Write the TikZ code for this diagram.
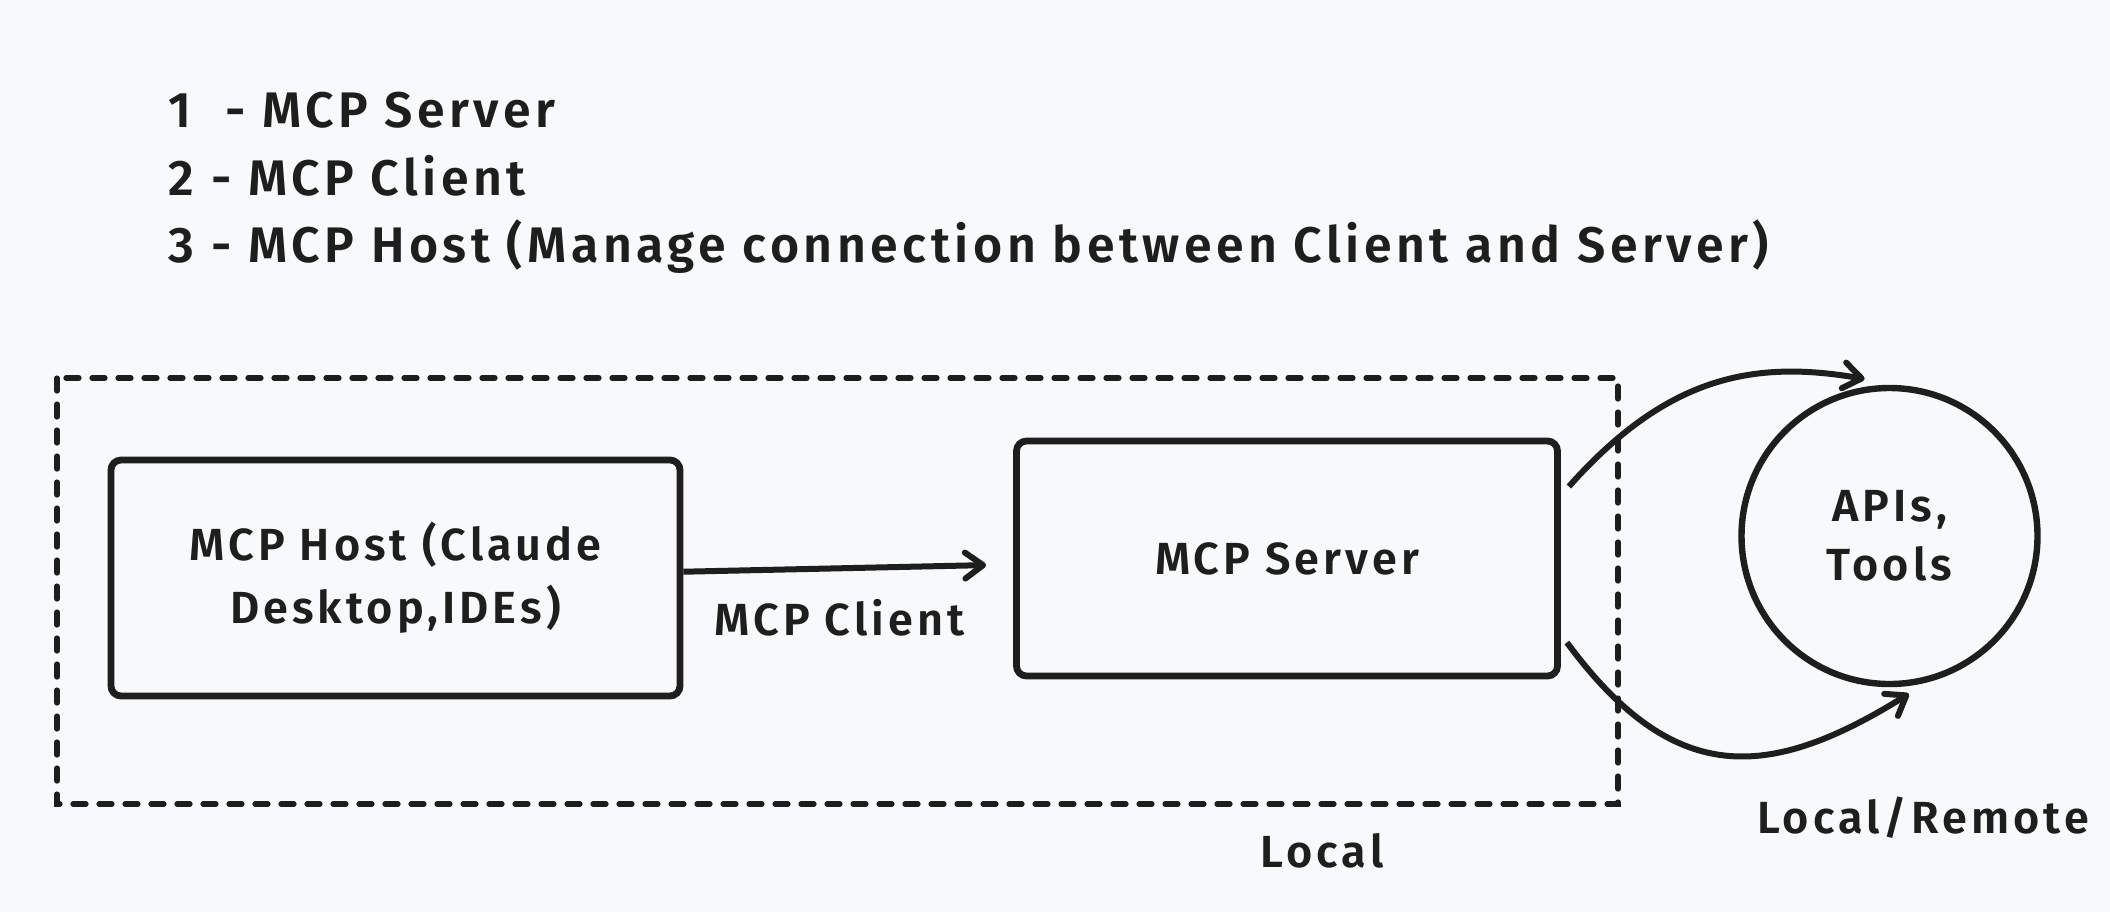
\documentclass[tikz,border=0pt]{standalone}
\usepackage{fontspec}
\setmainfont{Fira Sans}[LetterSpace=9,UprightFont=* SemiBold]
\usepackage{tikz}
\usetikzlibrary{arrows.meta,calc}
\definecolor{canvasbg}{RGB}{248,249,251}
\definecolor{ink}{RGB}{30,30,30}

\begin{document}
\begin{tikzpicture}[x=0.5pt,y=0.5pt,yscale=-1,xscale=1,
  box/.style={draw=ink,line width=3.4pt,rounded corners=5pt,align=center,text=ink,font=\fontsize{22.5}{31.5}\selectfont},
  lbl/.style={text=ink,inner sep=0.75pt,font=\fontsize{22.5}{31.5}\selectfont},
  listline/.style={anchor=base west,text=ink,inner sep=0.75pt,font=\fontsize{25}{30}\selectfont},
  link/.style={draw=ink,line width=3pt,-{Straight Barb[length=9pt,width=13pt,round]}}]
%diagram is 2110 x 912
\fill[canvasbg] (0,0) rectangle (2110,912);
\useasboundingbox (0,0) rectangle (2110,912);

% Text Node
\node[listline] (item1) at (167,127) {1\ \ - MCP Server};
% Text Node
\node[listline] (item2) at (167,195) {2 - MCP Client};
% Text Node
\node[listline] (item3) at (167,262) {3 - MCP Host (Manage connection between Client and Server)};

%Shape: Rectangle [dashed]
\draw[ink,line width=2.6pt,dash pattern=on 6.5pt off 6.5pt,line cap=round] (57,378) rectangle (1618,804);

%Shape: Rectangle
\node[box,minimum width=284.5pt,minimum height=118pt] (host) at (395.5,578) {MCP Host (Claude\\Desktop,IDEs)};
%Shape: Rectangle
\node[box,minimum width=270.5pt,minimum height=117.5pt] (server) at (1287,558.5) {MCP Server};
%Shape: Circle
\node[circle,draw=ink,line width=3.2pt,minimum size=148pt,outer sep=5.5pt,align=center,text=ink,font=\fontsize{22.5}{29.5}\selectfont] (apis) at (1889.5,536) {APIs,\\Tools};

%Straight Lines
\draw[link,shorten >=13.5pt] (host) -- (server);
%Curve Lines
\draw[link] ($(server.east)+(8,-72)$) .. controls (1668,375) and (1755,360) .. (apis.99);
%Curve Lines
\draw[link] ($(server.east)+(6,84)$) .. controls (1673,786) and (1767,782) .. (apis.277);

% Text Node
\node[lbl] (clientlbl) at (839.5,618) {MCP Client};
% Text Node
\node[lbl] (locallbl) at (1322,851) {Local};
% Text Node
\node[lbl] (remotelbl) at (1923,817.5) {Local/Remote};

\end{tikzpicture}
\end{document}
